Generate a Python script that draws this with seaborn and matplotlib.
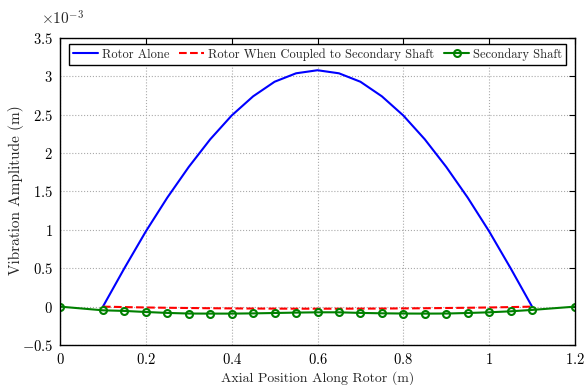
import numpy as np
import pandas as pd
import matplotlib
matplotlib.use("Agg")
import matplotlib.pyplot as plt
import seaborn as sns
from matplotlib.ticker import FuncFormatter, MultipleLocator

# --- data (amplitudes in m) ---
x_rotor = [0.10, 0.15, 0.20, 0.25, 0.30, 0.35, 0.40, 0.45, 0.50, 0.55, 0.60,
           0.65, 0.70, 0.75, 0.80, 0.85, 0.90, 0.95, 1.00, 1.05, 1.10]
rotor_alone = [0.0, 0.50, 0.98, 1.42, 1.82, 2.18, 2.49, 2.74, 2.93, 3.04, 3.08,
               3.04, 2.93, 2.74, 2.49, 2.18, 1.82, 1.42, 0.98, 0.50, 0.0]
rotor_coupled = [0.0, -0.006, -0.011, -0.015, -0.018, -0.021, -0.023, -0.025, -0.026, -0.027, -0.027,
                 -0.027, -0.026, -0.025, -0.023, -0.021, -0.018, -0.015, -0.011, -0.006, 0.0]
x_shaft = [0.0, 0.10, 0.15, 0.20, 0.25, 0.30, 0.35, 0.40, 0.45, 0.50, 0.55, 0.60,
           0.65, 0.70, 0.75, 0.80, 0.85, 0.90, 0.95, 1.00, 1.05, 1.10, 1.20]
secondary_shaft = [0.0, -0.048, -0.056, -0.070, -0.082, -0.090, -0.091, -0.091, -0.088, -0.083, -0.078, -0.074,
                   -0.074, -0.082, -0.087, -0.090, -0.091, -0.090, -0.083, -0.074, -0.061, -0.043, 0.0]
scale = 1e-3

df_rotor = pd.DataFrame({"x": x_rotor,
                         "alone": np.array(rotor_alone) * scale,
                         "coupled": np.array(rotor_coupled) * scale})
df_shaft = pd.DataFrame({"x": x_shaft, "y": np.array(secondary_shaft) * scale})

sns.set_style("white")
plt.rcParams['font.family'] = 'serif'
plt.rcParams['font.serif'] = ['cmr10', 'DejaVu Serif']
plt.rcParams['mathtext.fontset'] = 'cm'
plt.rcParams['axes.formatter.use_mathtext'] = True

fig = plt.figure(figsize=(5.84, 3.85), dpi=100)
ax = fig.add_axes([60 / 584, 1 - 345 / 385, 515 / 584, 307 / 385])

sns.lineplot(data=df_rotor, x="x", y="alone", ax=ax, color=(0, 0, 1), lw=1.5,
             label="Rotor Alone")
sns.lineplot(data=df_rotor, x="x", y="coupled", ax=ax, color=(1, 0, 0), lw=1.5,
             linestyle="--", label="Rotor When Coupled to Secondary Shaft")
sns.lineplot(data=df_shaft, x="x", y="y", ax=ax, color=(0, 0.5, 0), lw=1.5,
             marker="o", markersize=5, markerfacecolor="none", markeredgewidth=1.5,
             markeredgecolor=(0, 0.5, 0), label="Secondary Shaft")

ax.set_xlim(0, 1.2)
ax.set_ylim(-0.5e-3, 3.5e-3)
ax.xaxis.set_major_locator(MultipleLocator(0.2))
ax.yaxis.set_major_locator(MultipleLocator(0.5e-3))
ax.xaxis.set_major_formatter(FuncFormatter(lambda v, p: f"${v:g}$"))
ax.yaxis.set_major_formatter(FuncFormatter(lambda v, p: f"${round(v / scale, 3):g}$"))
ax.text(-0.036, 1.035, r"$\times10^{-3}$", transform=ax.transAxes, fontsize=11,
        ha="left", va="bottom")

ax.tick_params(direction="in", top=True, right=True, labelsize=10.5, length=4,
               width=0.8, colors="black", pad=5)
for s in ax.spines.values():
    s.set_color("black")
    s.set_linewidth(1.0)
ax.grid(True, linestyle=":", color="#aaaaaa", lw=0.8)

ax.set_xlabel("Axial Position Along Rotor (m)", fontsize=10, labelpad=3)
ax.set_ylabel("Vibration Amplitude (m)", fontsize=11)
ax.yaxis.set_label_coords(-0.07, 0.505)

leg = ax.legend(loc="upper center", ncol=3, fontsize=9, frameon=True, fancybox=False,
                edgecolor="black", framealpha=1, borderaxespad=0.45,
                columnspacing=0.8, handlelength=2.0, handletextpad=0.3,
                borderpad=0.35)
leg.get_frame().set_linewidth(1.0)

fig.savefig("out.png", dpi=100)
